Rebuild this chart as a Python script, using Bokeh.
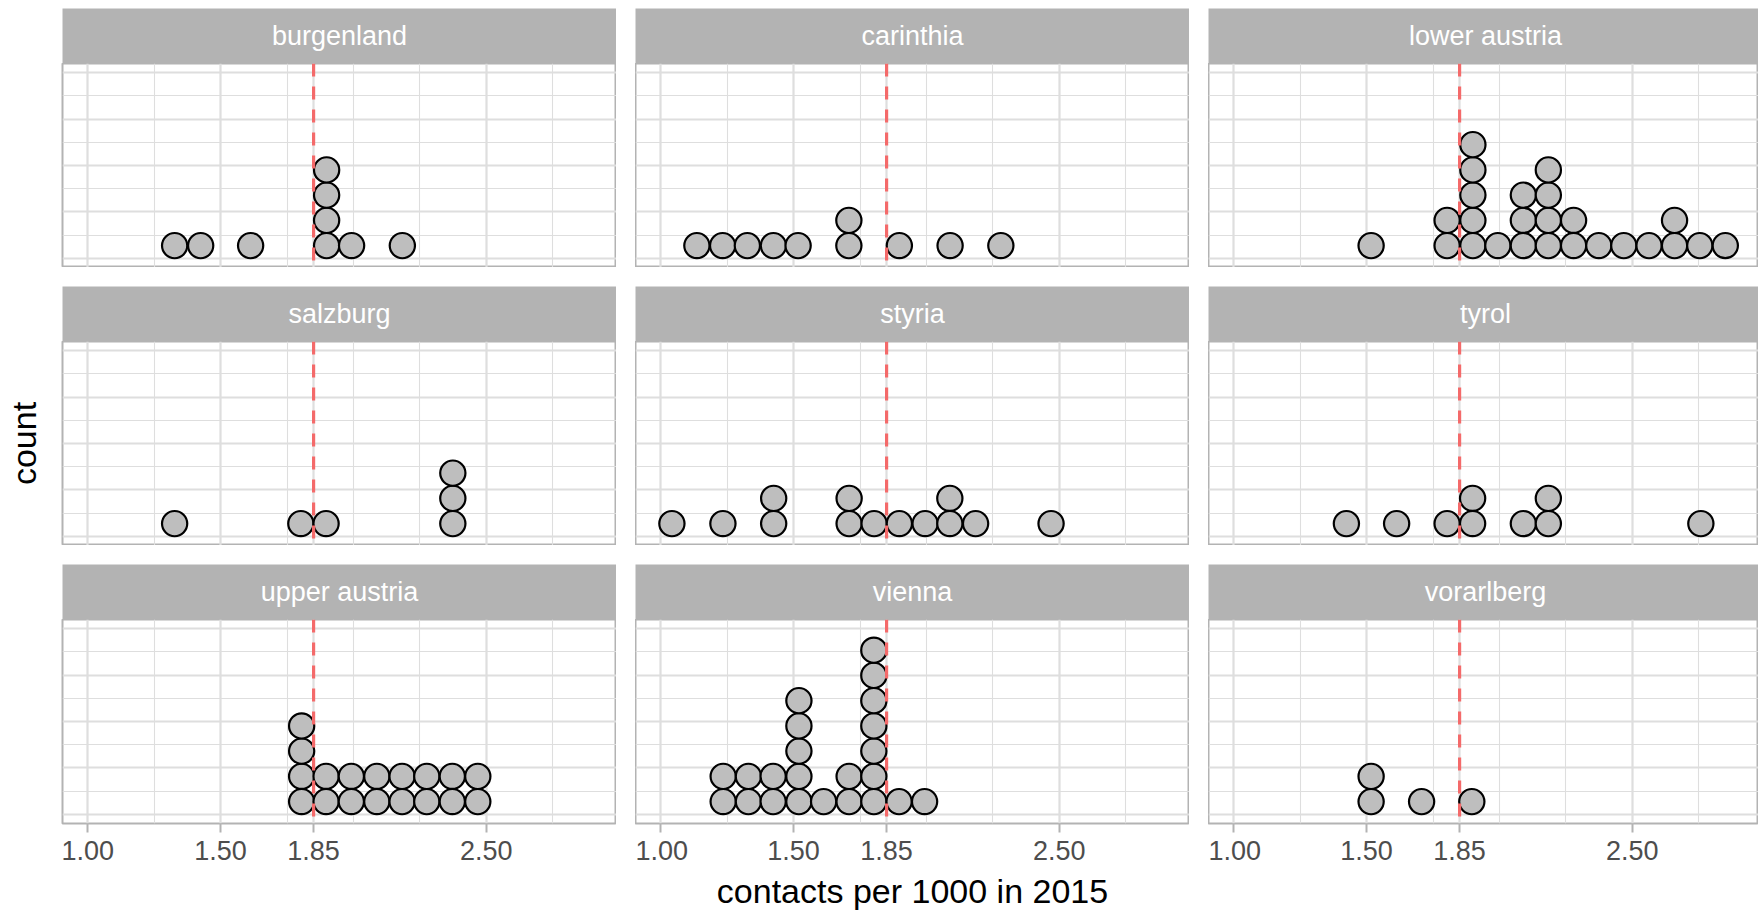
import numpy as np
from bokeh.plotting import figure
from bokeh.layouts import row, column
from bokeh.models import Range1d, LinearAxis, FixedTicker, Span, NumeralTickFormatter, Grid
from bokeh.core.properties import value
from bokeh.embed import file_html
from bokeh.resources import INLINE

# ---- data: dot-plot bin centres (contacts per 1000) and number of districts per bin ----
regions = ["burgenland", "carinthia", "lower austria",
           "salzburg", "styria", "tyrol",
           "upper austria", "vienna", "vorarlberg"]

burgenland_x = [1.327, 1.425, 1.613, 1.899, 1.993, 2.184]
burgenland_n = [1, 1, 1, 4, 1, 1]

carinthia_x = [1.136, 1.233, 1.326, 1.424, 1.517, 1.708, 1.898, 2.089, 2.280]
carinthia_n = [1, 1, 1, 1, 1, 2, 1, 1, 1]

lower_austria_x = [1.517, 1.803, 1.900, 1.994, 2.090, 2.184, 2.279, 2.374,
                   2.468, 2.563, 2.659, 2.754, 2.850]
lower_austria_n = [1, 2, 5, 1, 3, 4, 2, 1, 1, 1, 2, 1, 1]

salzburg_x = [1.327, 1.802, 1.897, 2.374]
salzburg_n = [1, 1, 1, 3]

styria_x = [1.042, 1.234, 1.425, 1.709, 1.803, 1.898, 1.995, 2.088, 2.185, 2.469]
styria_n = [1, 1, 2, 2, 1, 1, 1, 2, 1, 1]

tyrol_x = [1.424, 1.613, 1.803, 1.899, 2.090, 2.184, 2.758]
tyrol_n = [1, 1, 1, 2, 1, 2, 1]

upper_austria_x = [1.805, 1.897, 1.992, 2.088, 2.183, 2.276, 2.372, 2.468]
upper_austria_n = [4, 2, 2, 2, 2, 2, 2, 2]

vienna_x = [1.235, 1.330, 1.423, 1.520, 1.613, 1.709, 1.802, 1.897, 1.993]
vienna_n = [2, 2, 2, 5, 1, 2, 7, 1, 1]

vorarlberg_x = [1.517, 1.707, 1.896]
vorarlberg_n = [2, 1, 1]

region_data = {
    "burgenland": (burgenland_x, burgenland_n),
    "carinthia": (carinthia_x, carinthia_n),
    "lower austria": (lower_austria_x, lower_austria_n),
    "salzburg": (salzburg_x, salzburg_n),
    "styria": (styria_x, styria_n),
    "tyrol": (tyrol_x, tyrol_n),
    "upper austria": (upper_austria_x, upper_austria_n),
    "vienna": (vienna_x, vienna_n),
    "vorarlberg": (vorarlberg_x, vorarlberg_n),
}

reference_value = 1.85
x_tick_values = [1.0, 1.5, 1.85, 2.5]
x_minor_values = [1.25, 1.75, 2.0, 2.25, 2.75]
y_major_values = [0.0, 0.25, 0.5, 0.75, 1.0]
y_minor_values = [0.125, 0.375, 0.625, 0.875]
x_label = "contacts per 1000 in 2015"
y_label = "count"

# ---- styling / geometry ----
FONT = "Liberation Sans"
BINWIDTH = 0.095
X_START, X_END = 0.905, 2.99
Y_START, Y_END = -0.05, 1.05
PANEL_W = 554
LAST_W = 550          # right-most column is trimmed by the page edge
FRAME_H = 204
STRIP_H = 55
LEFT = 62
TOP = 8
BOTTOM = 90
GAP = 19
GRID_COL = "#DEDEDE"
BORDER_COL = "#B3B3B3"


def make_strip(name, col, r):
    frame_w = LAST_W if col == 2 else PANEL_W
    left = LEFT if col == 0 else 0
    top = TOP if r == 0 else 0
    s = figure(width=frame_w + left, height=STRIP_H + top,
               x_range=Range1d(0, frame_w), y_range=Range1d(0, STRIP_H),
               x_axis_location=None, y_axis_location=None,
               toolbar_location=None, output_backend="svg",
               min_border_left=left, min_border_right=0,
               min_border_top=top, min_border_bottom=0,
               background_fill_color=BORDER_COL, border_fill_color="white",
               outline_line_color=None)
    s.center = []
    s.text(x=[PANEL_W / 2], y=[STRIP_H / 2], text=[name],
           text_align="center", text_baseline="middle",
           text_color="white", text_font=value(FONT), text_font_size="27px")
    return s


def make_panel(name, col, r):
    frame_w = LAST_W if col == 2 else PANEL_W
    x_end = X_START + (X_END - X_START) * frame_w / PANEL_W
    left = LEFT if col == 0 else 0
    bottom = BOTTOM if r == 2 else 0
    p = figure(width=frame_w + left, height=FRAME_H + bottom,
               x_range=Range1d(X_START, x_end), y_range=Range1d(Y_START, Y_END),
               x_axis_location=None, y_axis_location=None,
               toolbar_location=None, output_backend="svg",
               min_border_left=left, min_border_right=0,
               min_border_top=0, min_border_bottom=bottom,
               background_fill_color="white", border_fill_color="white",
               outline_line_color=BORDER_COL, outline_line_width=2)
    p.center = []
    p.add_layout(Grid(dimension=0,
                      ticker=FixedTicker(ticks=x_tick_values, minor_ticks=x_minor_values),
                      grid_line_color=GRID_COL, grid_line_width=2.2,
                      minor_grid_line_color=GRID_COL, minor_grid_line_width=1.1))
    p.add_layout(Grid(dimension=1,
                      ticker=FixedTicker(ticks=y_major_values, minor_ticks=y_minor_values),
                      grid_line_color=GRID_COL, grid_line_width=2.2,
                      minor_grid_line_color=GRID_COL, minor_grid_line_width=1.1))

    # stack the dots: one dot per observation, piled up from y = 0
    xs, ns = region_data[name]
    x_scale = frame_w / (x_end - X_START)
    y_scale = FRAME_H / (Y_END - Y_START)
    step = BINWIDTH * x_scale / y_scale
    dot_x, dot_y = [], []
    for x, n in zip(xs, ns):
        for k in range(n):
            dot_x.append(x)
            dot_y.append((k + 0.5) * step)
    p.circle(dot_x, dot_y, radius=BINWIDTH / 2, radius_dimension="x",
             fill_color="#BEBEBE", line_color="black", line_width=2.2)

    p.add_layout(Span(location=reference_value, dimension="height",
                      line_color="#F46A6A", line_width=3.2, line_dash="13 10"))

    if r == 2:
        ax = LinearAxis(ticker=FixedTicker(ticks=x_tick_values, minor_ticks=[]),
                        formatter=NumeralTickFormatter(format="0.00"),
                        axis_line_color=None,
                        major_tick_line_color=BORDER_COL, major_tick_line_width=2,
                        major_tick_out=9, major_tick_in=0,
                        minor_tick_line_color=None,
                        major_label_text_font=FONT, major_label_text_font_size="27px",
                        major_label_text_color="#4D4D4D", major_label_standoff=8)
        if col == 1:
            ax.axis_label = x_label
            ax.axis_label_text_font = FONT
            ax.axis_label_text_font_size = "34px"
            ax.axis_label_text_font_style = "normal"
            ax.axis_label_text_color = "black"
            ax.axis_label_standoff = 9
        p.add_layout(ax, "below")

    if col == 0 and r == 1:
        ay = LinearAxis(ticker=FixedTicker(ticks=[], minor_ticks=[]),
                        axis_line_color=None, major_tick_line_color=None,
                        minor_tick_line_color=None,
                        major_tick_out=0, major_tick_in=0, major_label_standoff=0,
                        axis_label=y_label, axis_label_text_font=FONT,
                        axis_label_text_font_size="34px",
                        axis_label_text_font_style="normal",
                        axis_label_text_color="black", axis_label_standoff=20)
        p.add_layout(ay, "left")
    return p


grid_rows = []
for r in range(3):
    cells = []
    for c in range(3):
        name = regions[r * 3 + c]
        cells.append(column(make_strip(name, c, r), make_panel(name, c, r), spacing=0))
    grid_rows.append(row(*cells, spacing=GAP))

layout = column(*grid_rows, spacing=GAP)

open("out.html", "w").write(file_html(layout, INLINE))
